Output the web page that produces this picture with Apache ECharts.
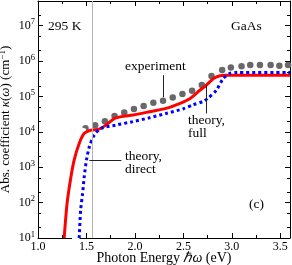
<!DOCTYPE html>
<html><head><meta charset="utf-8">
<script src="https://cdn.jsdelivr.net/npm/echarts@6/dist/echarts.min.js"></script>
<style>html,body{margin:0;padding:0;background:#fff}#c{width:292px;height:265px}</style>
</head><body><div id="c"></div>
<script>
// ---- data ----
const theoryFullX = [1.27,1.30,1.34,1.373,1.425,1.477,1.547,1.63,1.70,1.79,1.86,1.98,2.15,2.32,2.46,2.57,2.67,2.73,2.81,2.87,2.93,3.00,3.60];
const theoryFullY = [10,95,540,1600,4700,9100,11200,12000,15500,24000,27000,30000,37000,46000,63000,88000,150000,200000,320000,380000,400000,400000,400000];
const theoryDirectX = [1.425,1.44,1.46,1.477,1.50,1.53,1.58,1.65,1.80,1.98,2.15,2.32,2.50,2.60,2.70,2.76,2.84,2.91,2.98,3.05,3.60];
const theoryDirectY = [10,62,180,540,1600,3800,8100,12600,15500,19500,25000,33000,45000,58000,72000,92000,150000,320000,450000,480000,480000];
const expX = [1.49,1.59,1.69,1.79,1.89,1.99,2.09,2.19,2.29,2.39,2.49,2.59,2.69,2.79,2.90,2.99,3.10,3.19,3.29,3.40,3.49,3.58];
const expY = [12600,15500,20000,28000,35000,44000,54000,66000,76000,93000,117000,145000,210000,380000,560000,660000,720000,780000,780000,780000,740000,780000];
const expDirectX = [1.46,1.45,1.44,1.43,1.43,1.42,1.41,1.40,1.40,1.39];
const expDirectY = [10000,5200,2100,1050,520,210,105,51,20,10.5];
const bandEdge = 1.557;
const xMajor = [1.0,1.5,2.0,2.5,3.0,3.5];
const xMajorLabels = ['1.0','1.5','2.0','2.5','3.0','3.5'];
const xMinor = [1.25,1.75,2.25,2.75,3.25];
const yMajor = [1e1,1e2,1e3,1e4,1e5,1e6,1e7];
const yMajorExps = ['1','2','3','4','5','6','7'];
const yMinor = [20,50,200,500,2000,5000,2e4,5e4,2e5,5e5,2e6,5e6,2e7];

const pairs = (xs, ys) => xs.map((x, i) => [x, ys[i]]);
const FONT = 'Liberation Serif';
const chart = echarts.init(document.getElementById('c'), null, {renderer: 'canvas'});

function xAx(pos, ticks, len, showLine, labels) {
  return {
    type: 'value', position: pos, min: 1.0, max: 3.6,
    axisLine: {show: showLine, onZero: false, lineStyle: {color: '#000', width: 1}},
    axisTick: {show: true, inside: true, length: len, customValues: ticks, lineStyle: {color: '#000', width: 1}},
    axisLabel: labels ? {show: true, customValues: xMajor, margin: 3, color: '#000', fontFamily: FONT, fontSize: 12,
      formatter: v => xMajorLabels[xMajor.findIndex(t => Math.abs(t - v) < 1e-6)]} : {show: false},
    splitLine: {show: false}
  };
}
function yAx(pos, ticks, len, showLine, labels) {
  return {
    type: 'log', logBase: 10, position: pos, min: 10, max: 5e7,
    axisLine: {show: showLine, lineStyle: {color: '#000', width: 1}},
    axisTick: {show: true, inside: true, length: len, customValues: ticks, lineStyle: {color: '#000', width: 1}},
    axisLabel: labels ? {show: true, customValues: yMajor, margin: 3, color: '#000', fontFamily: FONT,
      formatter: v => '{b|10}{s|' + yMajorExps[yMajor.findIndex(t => Math.abs(t - v) / t < 1e-6)] + '}',
      rich: {b: {fontFamily: FONT, fontSize: 12, color: '#000'}, s: {fontFamily: FONT, fontSize: 8.5, color: '#000', verticalAlign: 'bottom', padding: [0,0,7,0]}}
    } : {show: false},
    splitLine: {show: false}
  };
}

const xAxes = [xAx('bottom', xMajor, 5, true, true), xAx('bottom', xMinor, 3, false, false),
               xAx('top', xMajor, 5, true, false), xAx('top', xMinor, 3, false, false)];
const yAxes = [yAx('left', yMajor, 5, true, true), yAx('left', yMinor, 3, false, false),
               yAx('right', yMajor, 5, true, false), yAx('right', yMinor, 3, false, false)];
xAxes[0].name = 'Photon Energy {i|ℏω} (eV)';
xAxes[0].nameLocation = 'middle';
xAxes[0].nameGap = 13;
xAxes[0].nameMoveOverlap = false;
xAxes[0].nameTextStyle = {fontFamily: FONT, fontSize: 14, color: '#000', verticalAlign: 'top',
  rich: {i: {fontFamily: FONT, fontStyle: 'italic', fontSize: 14, color: '#000'}}};
yAxes[0].name = 'Abs. coefficient {i|κ}({i|ω}) (cm{s|−1})';
yAxes[0].nameLocation = 'middle';
yAxes[0].nameGap = 24;
yAxes[0].nameMoveOverlap = false;
yAxes[0].nameTextStyle = {fontFamily: FONT, fontSize: 13, color: '#000',
  rich: {i: {fontFamily: FONT, fontStyle: 'italic', fontSize: 13, color: '#000'},
         s: {fontFamily: FONT, fontSize: 9, color: '#000', verticalAlign: 'bottom', padding: [0,0,7,0]}}};

const leader = {color: '#222', width: 1, type: 'solid'};
chart.setOption({
  animation: false,
  grid: {left: 38, right: 2, top: 1, bottom: 27, containLabel: false, outerBoundsMode: 'none'},
  xAxis: xAxes,
  yAxis: yAxes,
  series: [
    {type: 'line', data: pairs(expX, expY), lineStyle: {width: 0, opacity: 0}, symbol: 'circle', symbolSize: 6.5,
     itemStyle: {color: '#686868'}, z: 2,
     markLine: {silent: true, symbol: 'none', label: {show: false},
       data: [
         [{coord: [bandEdge, 10]}, {coord: [bandEdge, 5e7]}]
       ], lineStyle: {color: '#b4b4b4', width: 1, type: 'solid'}}},
    {type: 'line', data: pairs(expDirectX, expDirectY), lineStyle: {width: 0, opacity: 0}, symbol: 'emptyCircle', symbolSize: 6,
     itemStyle: {color: '#fff', borderColor: '#808080', borderWidth: 0.8}, z: 2},
    {type: 'line', data: pairs(theoryFullX, theoryFullY), smooth: 0.25, symbol: 'none',
     lineStyle: {color: '#ff0000', width: 3}, z: 3,
     markLine: {silent: true, symbol: 'none', label: {show: false}, lineStyle: leader,
       data: [
         [{coord: [2.29, 4.0e5]}, {coord: [2.29, 9.5e4]}],
         [{coord: [2.74, 2.1e5]}, {coord: [2.74, 3.3e4]}],
         [{coord: [1.53, 1570]}, {coord: [1.86, 1570]}]
       ]}},
    {type: 'line', data: pairs(theoryDirectX, theoryDirectY), smooth: 0.25, symbol: 'none',
     lineStyle: {color: '#0000ff', width: 3, type: [3, 3], cap: 'butt'}, z: 4}
  ],
  graphic: [
    {type: 'text', left: 48, top: 19, style: {text: '295 K', font: '13.5px "Liberation Serif"', fill: '#000'}},
    {type: 'text', left: 231, top: 19, style: {text: 'GaAs', font: '13.5px "Liberation Serif"', fill: '#000'}},
    {type: 'text', left: 125, top: 59, style: {text: 'experiment', font: '13.5px "Liberation Serif"', fill: '#000'}},
    {type: 'text', left: 188, top: 113, style: {text: 'theory,\nfull', font: '13.5px "Liberation Serif"', fill: '#000', lineHeight: 13}},
    {type: 'text', left: 125, top: 149, style: {text: 'theory,\ndirect', font: '13.5px "Liberation Serif"', fill: '#000', lineHeight: 13}},
    {type: 'text', left: 249, top: 197, style: {text: '(c)', font: '13.5px "Liberation Serif"', fill: '#000'}}
  ]
});
</script></body></html>
